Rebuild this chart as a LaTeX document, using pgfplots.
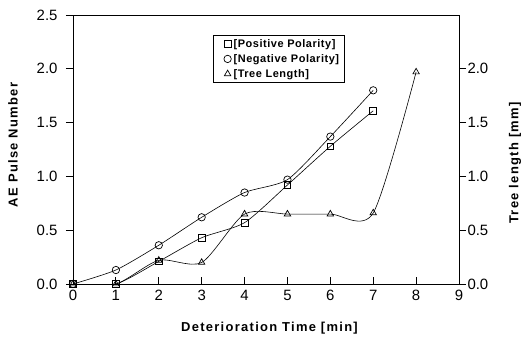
\documentclass[border=0pt]{standalone}
\usepackage{pgfplots}
\pgfplotsset{compat=1.18}
\usepackage{fontspec}
\setmainfont{Liberation Sans}
\newcommand{\labfont}{\bfseries\fontsize{13}{15}\selectfont\addfontfeatures{LetterSpace=10}}
\begin{document}
\begin{tikzpicture}
\useasboundingbox (-73bp,-53bp) rectangle (454bp,284bp);
\pgfplotsset{
  every axis/.append style={
    scale only axis, width=386bp, height=269bp,
    at={(0,0)}, anchor=south west,
    xmin=0, xmax=9, ymin=0, ymax=2.5,
    /pgf/number format/assume math mode=true,
    tick label style={font=\fontsize{15}{17}\selectfont},
    axis line style={line width=0.9pt},
    major tick length=7bp,
    every tick/.style={line width=0.8pt},
  }
}
\begin{axis}[
  axis lines=box,
  xtick pos=bottom,
  ytick pos=left,
  xtick={0,1,...,9},
  xtick align=inside,
  ytick={0,0.5,...,2.5},
  ytick align=outside,
  yticklabel style={xshift=-5bp, /pgf/number format/.cd, fixed, fixed zerofill, precision=1},
  xticklabel style={yshift=-3bp},
  xlabel={Deterioration Time [min]},
  ylabel={AE Pulse Number},
  xlabel style={font=\labfont, at={(axis description cs:0.509,-0.1636)}, anchor=center},
  ylabel style={font=\labfont, at={(axis description cs:-0.1554,0.517)}, anchor=center},
  legend style={at={(axis cs:3.26,2.314)}, anchor=north west, draw=black, line width=0.6pt,
    font=\bfseries\fontsize{11}{12}\selectfont\addfontfeatures{LetterSpace=5},
    row sep=1.5bp, inner xsep=3bp, inner ysep=2bp},
  legend cell align=left,
  legend image code/.code={\path[draw=none] (-11.5bp,0) -- (4bp,0); \draw[#1, only marks] plot coordinates {(0bp,0bp)};},
]
\addplot[black, line width=0.6pt, smooth, tension=0.4, mark=square, mark size=3.4bp, mark options={line width=0.7pt}]
  coordinates {(0,0) (1,0) (2,0.21) (3,0.43) (4,0.57) (5,0.92) (6,1.28) (7,1.61)};
\addlegendentry{[Positive Polarity]}
\addplot[black, line width=0.6pt, smooth, tension=0.4, mark=o, mark size=3.7bp, mark options={line width=0.7pt}]
  coordinates {(0,0) (1,0.13) (2,0.36) (3,0.62) (4,0.85) (5,0.97) (6,1.37) (7,1.80)};
\addlegendentry{[Negative Polarity]}
\addlegendimage{black, mark=triangle, mark size=3.7bp, mark options={line width=0.7pt}}
\addlegendentry{[Tree Length]}
\end{axis}
\begin{axis}[
  axis y line*=right,
  axis x line=none,
  ytick={0,0.5,...,2.0},
  ytick align=outside,
  yticklabel style={xshift=-2bp, /pgf/number format/.cd, fixed, fixed zerofill, precision=1},
  ylabel={Tree length [mm]},
  ylabel style={font=\labfont, at={(axis description cs:1.145,0.45)}, anchor=center},
]
\addplot[black, line width=0.6pt, smooth, tension=0.45, mark=triangle, mark size=3.7bp, mark options={line width=0.7pt}]
  coordinates {(0,0) (1,0) (2,0.22) (3,0.20) (4,0.65) (5,0.65) (6,0.65) (7,0.66) (8,1.97)};
\end{axis}
\end{tikzpicture}
\end{document}
